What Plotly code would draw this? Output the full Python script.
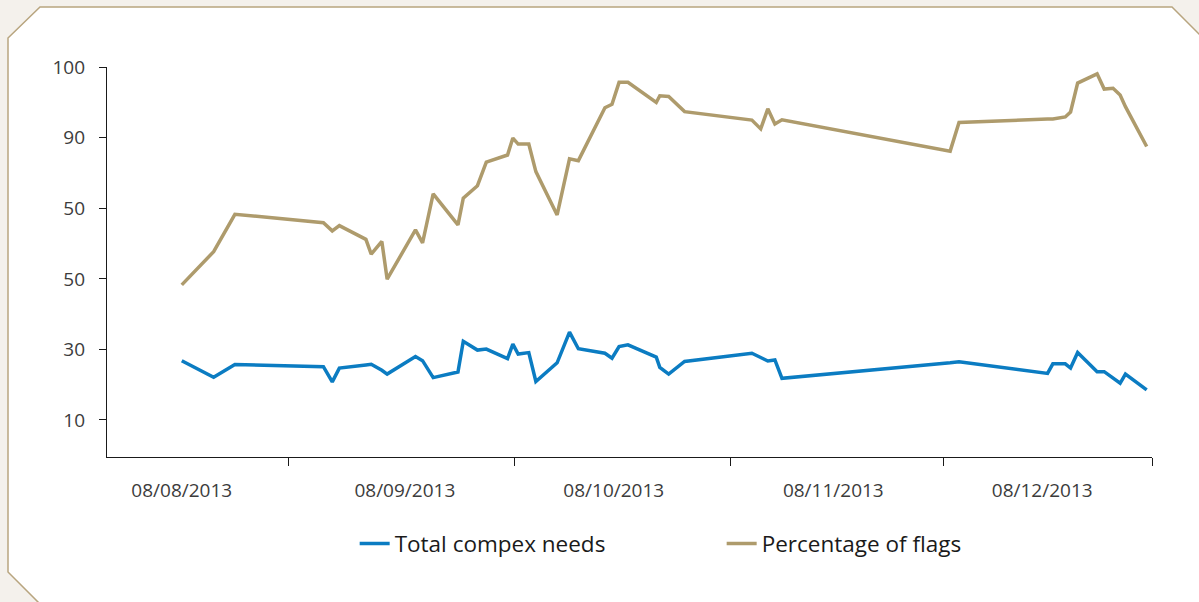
import plotly.graph_objects as go

# Dates (shared by both series)
dates = [
    "2013-08-17", "2013-08-21 12:00", "2013-08-24 12:00", "2013-09-06", "2013-09-07 06:00",
    "2013-09-08 06:00", "2013-09-12", "2013-09-12 18:00", "2013-09-14 06:00", "2013-09-15",
    "2013-09-19", "2013-09-20", "2013-09-21 12:00", "2013-09-25", "2013-09-25 18:00",
    "2013-09-27 18:00", "2013-09-29", "2013-10-02", "2013-10-02 18:00", "2013-10-03 12:00",
    "2013-10-05", "2013-10-06", "2013-10-09", "2013-10-10 18:00", "2013-10-12",
    "2013-10-15 18:00", "2013-10-16 18:00", "2013-10-17 18:00", "2013-10-19", "2013-10-23",
    "2013-10-23 12:00", "2013-10-24 18:00", "2013-10-27", "2013-11-05 12:00", "2013-11-06 18:00",
    "2013-11-07 18:00", "2013-11-08 18:00", "2013-11-09 18:00", "2013-12-03 12:00", "2013-12-04 18:00",
    "2013-12-17 06:00", "2013-12-18", "2013-12-19 18:00", "2013-12-20 12:00", "2013-12-21 12:00",
    "2013-12-24 06:00", "2013-12-25 06:00", "2013-12-26 12:00", "2013-12-27 12:00", "2013-12-28 06:00",
    "2013-12-31 06:00",
]

total_compex_needs = [
    26.8, 22.1, 25.7, 25.1, 20.8, 24.7, 25.6, 25.8, 24.1, 23.0,
    28.0, 26.8, 22.0, 23.6, 32.3, 29.8, 30.1, 27.4, 31.5, 28.7,
    29.1, 20.9, 26.2, 34.9, 30.2, 28.9, 27.5, 30.8, 31.3, 27.8,
    24.9, 23.0, 26.6, 28.9, 27.7, 26.7, 27.0, 21.8, 26.2, 26.5,
    23.2, 25.9, 25.9, 24.7, 29.1, 23.7, 23.7, 21.9, 20.4, 23.0,
    18.5,
]

percentage_of_flags = [
    48.3, 57.7, 68.3, 65.9, 63.6, 65.1, 61.2, 57.0, 60.6, 49.9,
    63.9, 60.2, 74.1, 65.3, 72.9, 76.4, 83.1, 85.1, 89.9, 88.2,
    88.2, 80.4, 68.1, 84.0, 83.5, 98.5, 99.5, 105.7, 105.7, 100.0,
    101.9, 101.7, 97.4, 95.0, 92.5, 98.2, 93.9, 95.1, 86.2, 94.3,
    95.3, 95.3, 95.9, 97.3, 105.5, 108.1, 103.8, 104.0, 102.1, 98.8,
    87.5,
]

# Axis labels as printed on the chart
y_tickvals = [10, 30, 50, 70, 90, 110]
y_ticktext = ["10", "30", "50", "50", "90", "100"]

x_label_pos = ["2013-08-17", "2013-09-17 12:00", "2013-10-17", "2013-11-17", "2013-12-16 12:00"]
x_labels = ["08/08/2013", "08/09/2013", "08/10/2013", "08/11/2013", "08/12/2013"]
x_tick_marks = ["2013-09-01", "2013-10-03", "2013-11-02 12:00", "2013-12-02 12:00", "2014-01-01"]

BLUE = "#0b7cc2"
TAN = "#ae9b6c"
FONT = "Open Sans"

W, H = 1199, 602
ML, MR, MT, MB = 107, 47, 67, 145


def to_paper(px, py):
    # pixel position on the page -> paper coordinates of the plot area
    x = (px - ML) / (W - ML - MR)
    y = (H - MB - py) / (H - MT - MB)
    return f"{x:.5f},{y:.5f}"


frame_pts = [(8, 38), (40, 7), (1172, 7), (1240, 75), (1240, 650), (86, 650), (8, 572)]
frame_path = "M " + " L ".join(to_paper(x, y) for x, y in frame_pts) + " Z"

fig = go.Figure()

fig.add_trace(go.Scatter(
    x=dates, y=total_compex_needs, mode="lines", name="Total compex needs",
    line=dict(color=BLUE, width=3.5)
))
fig.add_trace(go.Scatter(
    x=dates, y=percentage_of_flags, mode="lines", name="Percentage of flags",
    line=dict(color=TAN, width=3.5)
))

fig.update_layout(
    width=W, height=H,
    margin=dict(l=ML, r=MR, t=MT, b=MB),
    paper_bgcolor="#f4f1ec",
    plot_bgcolor="rgba(0,0,0,0)",
    font=dict(family=FONT, size=19, color="#3c3c3c"),
    showlegend=True,
    legend=dict(
        orientation="h", x=0.237, xanchor="left", y=-0.223, yanchor="middle",
        font=dict(family=FONT, size=22.5, color="#1a1a1a"),
        bgcolor="rgba(0,0,0,0)", itemwidth=30, entrywidth=322, entrywidthmode="pixels",
    ),
    shapes=[dict(
        type="path", xref="paper", yref="paper", path=frame_path,
        fillcolor="white", line=dict(color="#b8a57f", width=1.5), layer="below"
    )],
    xaxis=dict(
        type="date",
        range=["2013-08-06 10:36", "2014-01-01"],
        showline=True, linecolor="#1a1a1a", linewidth=1.3,
        showgrid=False, zeroline=False,
        tickmode="array", tickvals=x_label_pos, ticktext=x_labels,
        ticks="", ticklabelstandoff=16,
        minor=dict(tickmode="array", tickvals=x_tick_marks, ticks="outside",
                   ticklen=8, tickwidth=1.3, tickcolor="#1a1a1a", showgrid=False),
    ),
    yaxis=dict(
        range=[-0.5, 110.05],
        showline=True, linecolor="#1a1a1a", linewidth=1.3,
        showgrid=False, zeroline=False,
        tickmode="array", tickvals=y_tickvals, ticktext=y_ticktext,
        ticks="outside", ticklen=7, tickwidth=1.3, tickcolor="#1a1a1a",
        ticklabelstandoff=10,
    ),
)

# the page's default body margin would shift the figure by 8px
fig.write_html("out.html", config={"displayModeBar": False},
               post_script="document.body.style.margin='0';")
